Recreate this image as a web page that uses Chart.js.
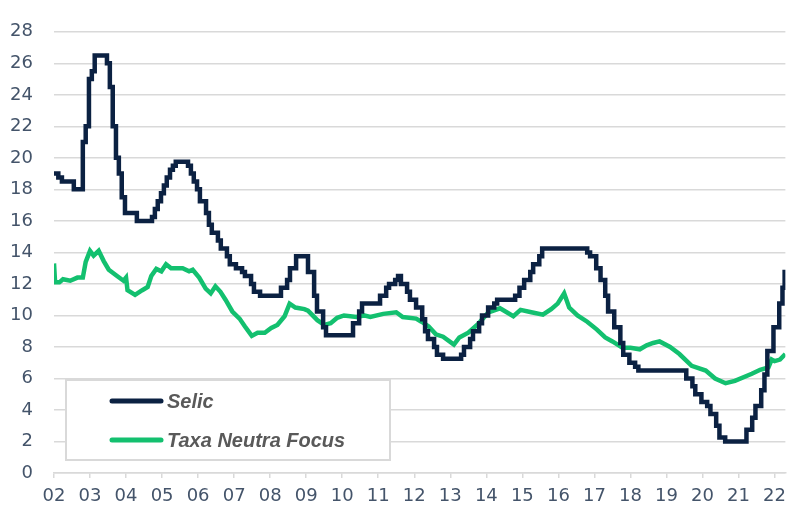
<!DOCTYPE html>
<html lang="pt">
<head>
  <meta charset="UTF-8" />
  <title>Selic x Taxa Neutra Focus</title>
  <script src="https://cdn.jsdelivr.net/npm/chart.js"></script>
  <style>
    body { margin: 0; background: #fff; }
  </style>
</head>
<body>
  <canvas id="rateChart" width="794" height="506"></canvas>

  <script>
    // Selic: meeting change points (decimal year, % a.a.)
    const selicDates = [
      2002.00, 2002.12, 2002.22, 2002.55, 2002.80, 2002.88, 2002.97, 2003.05, 2003.13, 2003.47,
      2003.55, 2003.63, 2003.72, 2003.80, 2003.88, 2003.97, 2004.30, 2004.72, 2004.80, 2004.88,
      2004.97, 2005.05, 2005.13, 2005.22, 2005.30, 2005.38, 2005.72, 2005.80, 2005.88, 2005.97,
      2006.05, 2006.22, 2006.30, 2006.38, 2006.55, 2006.63, 2006.80, 2006.88, 2007.05, 2007.22,
      2007.30, 2007.47, 2007.55, 2007.72, 2008.30, 2008.47, 2008.55, 2008.72, 2009.05, 2009.22,
      2009.30, 2009.47, 2009.55, 2010.30, 2010.47, 2010.55, 2011.05, 2011.22, 2011.30, 2011.47,
      2011.55, 2011.63, 2011.80, 2011.88, 2012.05, 2012.22, 2012.30, 2012.38, 2012.55, 2012.63,
      2012.80, 2013.30, 2013.38, 2013.55, 2013.63, 2013.80, 2013.88, 2014.05, 2014.22, 2014.30,
      2014.80, 2014.92, 2015.05, 2015.22, 2015.30, 2015.47, 2015.55, 2016.80, 2016.88, 2017.05,
      2017.17, 2017.30, 2017.38, 2017.55, 2017.72, 2017.80, 2017.97, 2018.13, 2018.22, 2019.55,
      2019.72, 2019.80, 2019.97, 2020.13, 2020.22, 2020.38, 2020.47, 2020.63, 2021.22, 2021.38,
      2021.47, 2021.63, 2021.72, 2021.80, 2021.97, 2022.13, 2022.22, 2022.28, 2022.32
    ];
    const selicRates = [
      19.0, 18.75, 18.5, 18.0, 21.0, 22.0, 25.0, 25.5, 26.5, 26.0,
      24.5, 22.0, 20.0, 19.0, 17.5, 16.5, 16.0, 16.25, 16.75, 17.25,
      17.75, 18.25, 18.75, 19.25, 19.5, 19.75, 19.5, 19.0, 18.5, 18.0,
      17.25, 16.5, 15.75, 15.25, 14.75, 14.25, 13.75, 13.25, 13.0, 12.75,
      12.5, 12.0, 11.5, 11.25, 11.75, 12.25, 13.0, 13.75, 12.75, 11.25,
      10.25, 9.25, 8.75, 9.5, 10.25, 10.75, 11.25, 11.75, 12.0, 12.25,
      12.5, 12.0, 11.5, 11.0, 10.5, 9.75, 9.0, 8.5, 8.0, 7.5,
      7.25, 7.5, 8.0, 8.5, 9.0, 9.5, 10.0, 10.5, 10.75, 11.0,
      11.25, 11.75, 12.25, 12.75, 13.25, 13.75, 14.25, 14.0, 13.75, 13.0,
      12.25, 11.25, 10.25, 9.25, 8.25, 7.5, 7.0, 6.75, 6.5, 6.0,
      5.5, 5.0, 4.5, 4.25, 3.75, 3.0, 2.25, 2.0, 2.75, 3.5,
      4.25, 5.25, 6.25, 7.75, 9.25, 10.75, 11.75, 12.75, 12.75
    ];

    // Taxa neutra implicita (Focus)
    const focusDates = [
      2002.00, 2002.03, 2002.15, 2002.25, 2002.45, 2002.65, 2002.80, 2002.88, 2003.00, 2003.10,
      2003.24, 2003.38, 2003.52, 2003.75, 2003.93, 2004.00, 2004.04, 2004.25, 2004.45, 2004.60,
      2004.70, 2004.84, 2004.98, 2005.11, 2005.25, 2005.57, 2005.75, 2005.85, 2006.03, 2006.21,
      2006.35, 2006.48, 2006.62, 2006.76, 2006.95, 2007.15, 2007.30, 2007.49, 2007.65, 2007.85,
      2008.03, 2008.20, 2008.40, 2008.54, 2008.70, 2008.95, 2009.05, 2009.31, 2009.50, 2009.68,
      2009.86, 2010.05, 2010.40, 2010.60, 2010.78, 2011.14, 2011.50, 2011.68, 2012.05, 2012.20,
      2012.40, 2012.60, 2012.80, 2013.10, 2013.25, 2013.50, 2013.79, 2014.06, 2014.38, 2014.75,
      2014.95, 2015.25, 2015.57, 2015.80, 2015.98, 2016.16, 2016.30, 2016.53, 2016.80, 2017.07,
      2017.30, 2017.50, 2017.78, 2018.00, 2018.26, 2018.45, 2018.63, 2018.81, 2019.10, 2019.36,
      2019.70, 2020.09, 2020.35, 2020.64, 2020.90, 2021.37, 2021.60, 2021.83, 2021.92, 2022.00,
      2022.15, 2022.30
    ];
    const focusRates = [
      13.3, 12.1, 12.1, 12.3, 12.2, 12.4, 12.4, 13.4, 14.1, 13.8,
      14.1, 13.45, 12.9, 12.5, 12.2, 12.4, 11.6, 11.3, 11.6, 11.8,
      12.5, 12.95, 12.8, 13.25, 13.0, 13.0, 12.8, 12.9, 12.4, 11.7,
      11.4, 11.85, 11.5, 11.0, 10.25, 9.8, 9.3, 8.7, 8.9, 8.9,
      9.2, 9.4, 9.95, 10.75, 10.5, 10.4, 10.3, 9.7, 9.4, 9.5,
      9.85, 10.0, 9.9, 10.0, 9.9, 10.1, 10.2, 9.9, 9.8, 9.6,
      9.3, 8.8, 8.65, 8.15, 8.6, 8.9, 9.5, 10.2, 10.45, 9.95,
      10.35, 10.2, 10.05, 10.4, 10.75, 11.4, 10.5, 10.0, 9.6, 9.1,
      8.6, 8.35, 7.95, 7.95, 7.85, 8.1, 8.25, 8.35, 8.0, 7.55,
      6.8, 6.5, 6.0, 5.7, 5.85, 6.3, 6.55, 6.7, 7.2, 7.1,
      7.2, 7.55
    ];

    const yearTicks = ['02', '03', '04', '05', '06', '07', '08', '09', '10', '11', '12',
                       '13', '14', '15', '16', '17', '18', '19', '20', '21', '22'];

    const toPoints = (xs, ys) => xs.map((x, i) => ({ x: x, y: ys[i] }));

    const axisColor = '#d9d9d9';
    const labelColor = '#44546a';
    const tickFont = { family: '"DejaVu Sans", sans-serif', size: 18 };

    // boxed legend in the lower left corner
    const boxLegend = {
      id: 'boxLegend',
      afterDraw(chart) {
        const ctx = chart.ctx;
        const x0 = 66, y0 = 380, w = 324, h = 80;
        ctx.save();
        ctx.fillStyle = '#fff';
        ctx.fillRect(x0, y0, w, h);
        ctx.strokeStyle = axisColor;
        ctx.lineWidth = 2;
        ctx.strokeRect(x0, y0, w, h);
        const rows = [401, 440];
        chart.data.datasets.forEach((ds, i) => {
          const y = rows[i];
          ctx.strokeStyle = ds.borderColor;
          ctx.lineWidth = 5;
          ctx.lineCap = 'round';
          ctx.beginPath();
          ctx.moveTo(112, y);
          ctx.lineTo(161, y);
          ctx.stroke();
          ctx.fillStyle = '#595959';
          ctx.font = 'italic bold 20px "Liberation Sans", Arial, sans-serif';
          ctx.textBaseline = 'middle';
          ctx.fillText(ds.label, 167, y + 1);
        });
        ctx.restore();
      }
    };

    new Chart(document.getElementById('rateChart'), {
      type: 'line',
      data: {
        datasets: [
          {
            label: 'Selic',
            data: toPoints(selicDates, selicRates),
            borderColor: '#0b2142',
            borderWidth: 4.5,
            stepped: true,
            pointRadius: 0
          },
          {
            label: 'Taxa Neutra Focus',
            data: toPoints(focusDates, focusRates),
            borderColor: '#13c06f',
            borderWidth: 4.5,
            tension: 0,
            pointRadius: 0
          }
        ]
      },
      options: {
        responsive: false,
        animation: false,
        layout: { padding: { top: 23, right: 0, left: 0, bottom: 0 } },
        plugins: {
          legend: { display: false },
          tooltip: { enabled: false }
        },
        scales: {
          x: {
            type: 'linear',
            min: 2002,
            max: 2022.3,
            afterFit(scale) { scale.height = 33; },
            grid: {
              drawOnChartArea: false,
              color: axisColor,
              lineWidth: 1.5,
              tickLength: 5
            },
            border: { display: true, color: axisColor, width: 1.5 },
            ticks: {
              stepSize: 1,
              includeBounds: false,
              autoSkip: false,
              maxRotation: 0,
              padding: 8,
              color: labelColor,
              font: tickFont,
              callback: (v) => yearTicks[Math.round(v) - 2002]
            }
          },
          y: {
            min: 0,
            max: 28,
            afterFit(scale) { scale.width = 54; },
            grid: { color: axisColor, lineWidth: 1.5, drawTicks: false },
            border: { display: false },
            ticks: {
              stepSize: 2,
              padding: 21,
              color: labelColor,
              font: tickFont
            }
          }
        }
      },
      plugins: [boxLegend]
    });
  </script>
</body>
</html>
